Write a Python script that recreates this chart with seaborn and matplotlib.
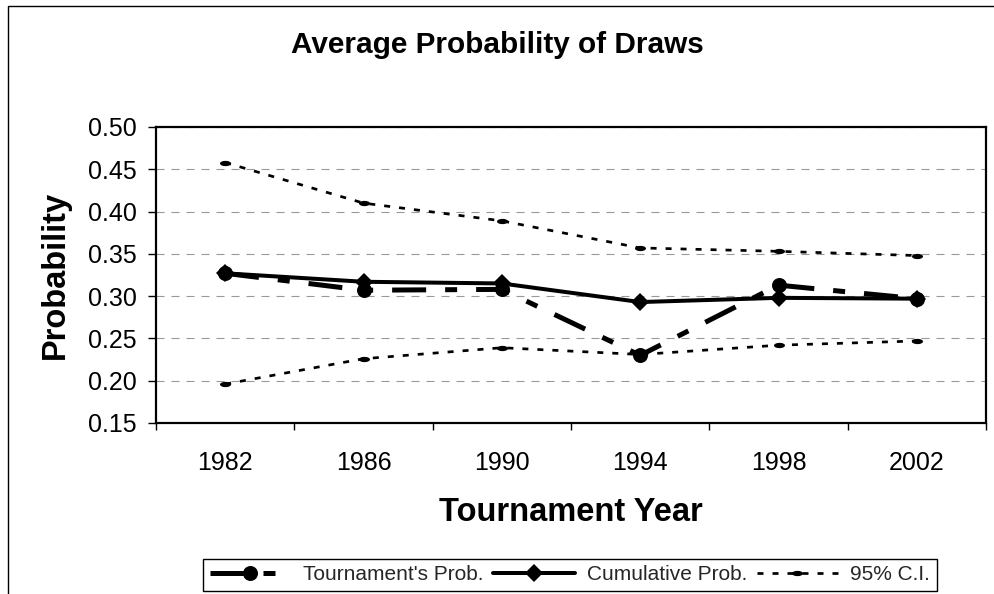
import numpy as np
import pandas as pd
import matplotlib
matplotlib.use("Agg")
import matplotlib.pyplot as plt
from matplotlib.path import Path
from matplotlib.lines import Line2D
from matplotlib.patches import Rectangle
from matplotlib.ticker import FixedLocator, NullFormatter
import seaborn as sns

# ---- data ----
years = ["1982", "1986", "1990", "1994", "1998", "2002"]
tournament_prob = [0.327, 0.307, 0.308, 0.230, 0.313, 0.297]
cumulative_prob = [0.327, 0.317, 0.315, 0.293, 0.298, 0.297]
ci_upper = [0.458, 0.410, 0.389, 0.357, 0.353, 0.348]
ci_lower = [0.196, 0.226, 0.239, 0.231, 0.242, 0.247]
y_ticks = [0.15, 0.20, 0.25, 0.30, 0.35, 0.40, 0.45, 0.50]

title = "Average Probability of Draws"
xlabel = "Tournament Year"
ylabel = "Probability"
labels = ["Tournament's Prob.", "Cumulative Prob.", "95% C.I."]

sns.set_theme(style="white")
plt.rcParams['font.family'] = ['Liberation Sans', 'DejaVu Sans']
plt.rcParams['lines.scale_dashes'] = False

fig = plt.figure(figsize=(9.94, 5.94), dpi=100)
ax = fig.add_axes([156/994, 1-423/594, (986-156)/994, (423-127)/594])

PX = 0.72  # points per pixel

# ellipse marker for CI
t = np.linspace(0, 2*np.pi, 40)
ell = Path(np.column_stack([np.cos(t), 0.48*np.sin(t)]), closed=True)

df = pd.DataFrame({"year": years, "tour": tournament_prob, "cum": cumulative_prob,
                   "up": ci_upper, "lo": ci_lower})

CI_LW = 2.7*PX
CI_MS = 11*PX
CI_DASH = [6*PX, 9*PX]
TOUR_DASH = [34*PX, 19*PX, 12*PX, 19*PX]

ci_kw = dict(color="black", lw=CI_LW, marker=ell, markersize=CI_MS,
             markeredgewidth=0, sort=False)
l_up = sns.lineplot(data=df, x="year", y="up", ax=ax, **ci_kw).lines[-1]
l_lo = sns.lineplot(data=df, x="year", y="lo", ax=ax, **ci_kw).lines[-1]
for ln in (l_up, l_lo):
    ln.set_dashes(CI_DASH)

sns.lineplot(data=df, x="year", y="cum", ax=ax, color="black", lw=4*PX,
             marker="D", markersize=9.5, markeredgewidth=0, sort=False)

sns.lineplot(data=df, x="year", y="tour", ax=ax, color="black", lw=5*PX,
             marker="o", markersize=15*PX, markeredgewidth=0, sort=False)
l_tour = ax.lines[-1]
l_tour.set_dashes(TOUR_DASH)

# axes styling
ax.set_xlim(-0.5, 5.5)
ax.set_ylim(0.15, 0.50)
ax.set_yticks(y_ticks)
ax.set_yticklabels([f"{v:.2f}" for v in y_ticks])
ax.set_xticks(range(len(years)))
ax.set_xticklabels(years)
ax.xaxis.set_minor_locator(FixedLocator(np.arange(-0.5, 6, 1.0)))
ax.xaxis.set_minor_formatter(NullFormatter())
ax.tick_params(axis="x", which="major", length=0, pad=20, labelsize=18, labelcolor="black")
ax.tick_params(axis="x", which="minor", length=7*PX, width=1.4*PX, color="black", direction="out", bottom=True)
ax.tick_params(axis="y", which="major", length=8*PX, width=1.4*PX, color="black", direction="out", left=True, pad=8, labelsize=18, labelcolor="black")

for s in ax.spines.values():
    s.set_color("black")
    s.set_linewidth(2.2*PX)

ax.yaxis.grid(True, color="#999999", lw=1.1*PX, linestyle=(0, (8*PX, 7*PX)))
ax.xaxis.grid(False)
ax.set_axisbelow(True)

ax.set_xlabel(xlabel, fontsize=23.5, fontweight="bold", labelpad=16, color="black")
ax.set_ylabel(ylabel, fontsize=23.5, fontweight="bold", labelpad=12, color="black")

fig.text(0.5, 1-53/594, title, ha="center", va="baseline", fontsize=21.4, fontweight="bold", color="black")

# legend
h_tour = Line2D([], [], color="black", lw=5*PX, marker="o", markersize=15*PX, markeredgewidth=0)
h_tour.set_dashes(TOUR_DASH)
h_cum = Line2D([], [], color="black", lw=4*PX, marker="D", markersize=9.5, markeredgewidth=0)
h_ci = Line2D([], [], color="black", lw=CI_LW, marker=ell, markersize=CI_MS, markeredgewidth=0)
h_ci.set_dashes(CI_DASH)
leg = fig.legend([h_tour, h_cum, h_ci], labels, ncol=3, loc="center",
                 bbox_to_anchor=(570/994, 1-575/594), frameon=True, fancybox=False,
                 shadow=False, fontsize=15, handlelength=3.9, handletextpad=0.6,
                 columnspacing=0.45, borderpad=0.3, edgecolor="black", framealpha=1)
leg.get_frame().set_linewidth(1.4*PX)

# outer chart-area border (partially visible)
fig.add_artist(Rectangle((8/994, -0.2), 1.2, 1-6/594+0.2, transform=fig.transFigure,
                         fill=False, edgecolor="black", lw=1.4*PX, clip_on=False))

fig.savefig("out.png", dpi=100, facecolor="white")
